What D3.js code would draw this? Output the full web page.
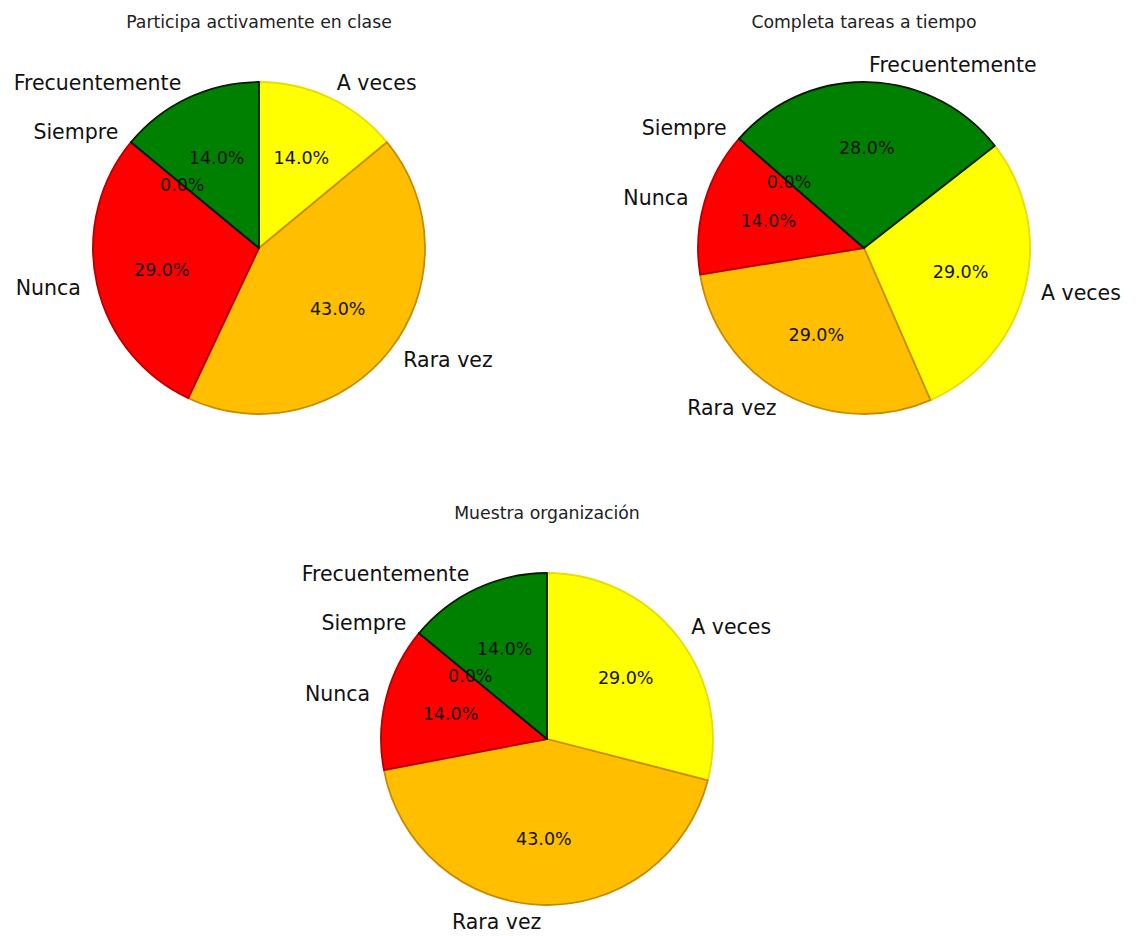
<!DOCTYPE html>
<html>
<head>
<meta charset="utf-8">
<script src="https://cdn.jsdelivr.net/npm/d3@7"></script>
<style>
    body { margin: 0; background: #fff; }
    svg { display: block; font-family: "DejaVu Sans", sans-serif; }
</style>
</head>
<body>
<svg id="chart" width="1139" height="936"></svg>
<script>
// answer categories, in drawing order (clockwise)
const categories = ["A veces", "Rara vez", "Nunca", "Siempre", "Frecuentemente"];
const chartTitles = ["Participa activamente en clase", "Completa tareas a tiempo", "Muestra organización"];

// percentages per question
const participaValues = [14, 43, 29, 0, 14];
const completaValues = [29, 29, 14, 0, 28];
const organizacionValues = [29, 43, 14, 0, 14];

const fillColors = ["#ffff00", "#ffbf00", "#ff0000", "#0050c0", "#008000"];
const edgeColors = ["#e8dc00", "#c98a00", "#b40000", "#002a00", "#001a00"];

const panels = [
    { title: chartTitles[0], values: participaValues, cx: 259, cy: 248, rot: 0, clipBottom: null },
    { title: chartTitles[1], values: completaValues, cx: 864, cy: 248, rot: 52, clipBottom: 417 },
    { title: chartTitles[2], values: organizacionValues, cx: 547, cy: 739, rot: 0, clipBottom: null }
];

const radius = 166;
const svg = d3.select("#chart");
const color = d3.scaleOrdinal().domain(categories).range(fillColors);
const edge = d3.scaleOrdinal().domain(categories).range(edgeColors);
const arc = d3.arc().innerRadius(0).outerRadius(radius);
const pctFormat = d => d3.format(".1f")(d) + "%";

panels.forEach((p, i) => {
    let data = categories.map((c, j) => ({ category: c, value: p.values[j] }));
    let start = p.rot * Math.PI / 180;
    let pie = d3.pie().sort(null).value(d => d.value)
        .startAngle(start).endAngle(start + 2 * Math.PI);
    let arcs = pie(data);

    if (p.clipBottom !== null) {
        svg.append("clipPath").attr("id", `clip-${i}`)
            .append("rect")
            .attr("x", p.cx - 400).attr("y", 0)
            .attr("width", 800).attr("height", p.clipBottom);
    }

    let outer = svg.append("g")
        .attr("clip-path", p.clipBottom !== null ? `url(#clip-${i})` : null);

    outer.append("text")
        .attr("x", p.cx).attr("y", p.cy - 226)
        .attr("text-anchor", "middle")
        .attr("dominant-baseline", "central")
        .attr("font-size", 17.3)
        .attr("fill", "#222")
        .text(p.title);

    let g = outer.append("g").attr("transform", `translate(${p.cx},${p.cy})`);

    g.selectAll("path.slice")
        .data(arcs)
        .enter()
        .append("path")
            .attr("class", "slice")
            .attr("d", arc)
            .attr("fill", d => color(d.data.category))
            .attr("stroke", d => edge(d.data.category))
            .attr("stroke-width", 1.8)
            .attr("stroke-linejoin", "round");

    let mid = d => (d.startAngle + d.endAngle) / 2;

    // category labels at 1.1 r
    g.selectAll("text.label")
        .data(arcs)
        .enter()
        .append("text")
            .attr("class", "label")
            .attr("x", d => Math.sin(mid(d)) * radius * 1.1)
            .attr("y", d => -Math.cos(mid(d)) * radius * 1.1)
            .attr("text-anchor", d => Math.sin(mid(d)) > 0 ? "start" : "end")
            .attr("dominant-baseline", "central")
            .attr("font-size", 20.5)
            .attr("fill", "#111")
            .text(d => d.data.category);

    // percentage labels at 0.6 r
    g.selectAll("text.pct")
        .data(arcs)
        .enter()
        .append("text")
            .attr("class", "pct")
            .attr("x", d => Math.sin(mid(d)) * radius * 0.6)
            .attr("y", d => -Math.cos(mid(d)) * radius * 0.6)
            .attr("text-anchor", "middle")
            .attr("dominant-baseline", "central")
            .attr("font-size", 17.5)
            .attr("fill", "#111")
            .text(d => pctFormat(d.data.value));
});
</script>
</body>
</html>
